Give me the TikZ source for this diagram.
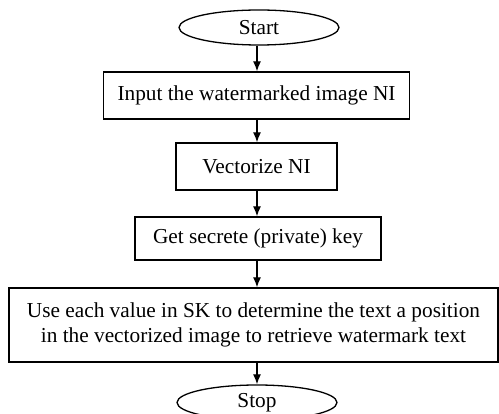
\documentclass[tikz,border=0pt]{standalone}
\usepackage{fontspec}
\setmainfont{Liberation Serif}
\usetikzlibrary{arrows.meta,shapes.geometric}

\begin{document}
\begin{tikzpicture}[x=1pt,y=-1pt,
  every node/.style={font=\fontsize{21.3}{24.5}\selectfont, inner sep=0pt, line width=1.3pt},
  procbox/.style={draw, rectangle, align=center},
  terminal/.style={draw, ellipse, minimum width=160pt, minimum height=35pt},
  flow/.style={line width=1.3pt, -{Latex[length=10pt,width=8pt]}}
]
\clip (0,0) rectangle (499,414);
\useasboundingbox (0,0) rectangle (499,414);

% column on which all connectors run
\coordinate (ax) at (257,0);

\node[terminal] (start) at (259,27.5) {Start};
\node[procbox, minimum width=306pt, minimum height=47pt] (input) at (256.5,95.5)
  {Input the watermarked image NI};
\node[procbox, minimum width=161pt, minimum height=47pt] (vect) at (256.5,166.5)
  {Vectorize NI};
\node[procbox, minimum width=246pt, minimum height=43pt] (key) at (258,238.5)
  {Get secrete (private) key};
\node[procbox, minimum width=489pt, minimum height=74pt] (use) at (253.5,325)
  {Use each value in SK to determine the text a position\\
   in the vectorized image to retrieve watermark text};
\node[terminal] (stop) at (257,402.5) {Stop};

\draw[flow] (start.south -| ax) -- (input.north -| ax);
\draw[flow] (input.south -| ax) -- (vect.north -| ax);
\draw[flow] (vect.south -| ax) -- (key.north -| ax);
\draw[flow] (key.south -| ax) -- (use.north -| ax);
\draw[flow] (use.south -| ax) -- (stop.north -| ax);
\end{tikzpicture}
\end{document}
